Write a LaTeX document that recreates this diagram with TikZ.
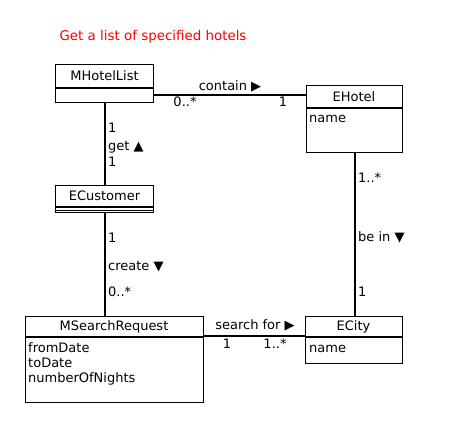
\documentclass[tikz,border=0pt]{standalone}
\usepackage{fontspec}
\setmainfont{DejaVu Sans}
\begin{document}
\begin{tikzpicture}[x=1pt,y=-1pt,
  every node/.style={font=\fontsize{13}{15}\selectfont, inner sep=0pt},
  cls/.style={draw, line width=1.4pt, anchor=north west, inner sep=0pt},
  lbl/.style={anchor=west},
  assoc/.style={line width=1.4pt},
  sep/.style={line width=1.4pt}]
\useasboundingbox (0,0) rectangle (462,434);
% title
\node[text=red, font=\fontsize{13.4}{15}\selectfont] (title) at (153,37) {Get a list of specified hotels};
% classes
\node[cls, minimum width=98pt, minimum height=38pt] (mhl) at (55,64) {};
\node (mhlname) at (104.5,76) {MHotelList};
\draw[sep] (mhl.west |- 0,88) -- (mhl.east |- 0,88);

\node[cls, minimum width=96pt, minimum height=67pt] (eh) at (306,85) {};
\node (ehname) at (354,97) {EHotel};
\draw[sep] (eh.west |- 0,108) -- (eh.east |- 0,108);
\node[lbl] (ehattr) at (309,119) {name};

\node[cls, minimum width=98pt, minimum height=27pt] (ec) at (55,185) {};
\node (ecname) at (104.5,196) {ECustomer};
\draw[sep] (ec.west |- 0,207) -- (ec.east |- 0,207);
\draw[line width=0.8pt] (ec.west |- 0,210) -- (ec.east |- 0,210);

\node[cls, minimum width=178pt, minimum height=86pt] (msr) at (25,316) {};
\node (msrname) at (114,327) {MSearchRequest};
\draw[sep] (msr.west |- 0,337) -- (msr.east |- 0,337);
\node[lbl, align=left, anchor=north west] (msrattr) at (28,342) {fromDate\\toDate\\numberOfNights};

\node[cls, minimum width=97pt, minimum height=47pt] (city) at (305,316) {};
\node (cityname) at (353.5,327) {ECity};
\draw[sep] (city.west |- 0,337) -- (city.east |- 0,337);
\node[lbl] (cityattr) at (309,349) {name};

% associations
\draw[assoc] (mhl.east |- 0,95) -- (eh.west |- 0,95);
\node (l1) at (230,86) {contain ▶};
\node (l1a) at (185,102) {0..*};
\node (l1b) at (283,102) {1};

\draw[assoc] (mhl.south -| 105,0) -- (ec.north -| 105,0);
\node[lbl] (l2a) at (108,128) {1};
\node[lbl] (l2) at (108,147) {get ▲};
\node[lbl] (l2b) at (108,162) {1};

\draw[assoc] (ec.south -| 105,0) -- (msr.north -| 105,0);
\node[lbl] (l3a) at (108,238) {1};
\node[lbl] (l3) at (108,267) {create ▼};
\node[lbl] (l3b) at (108,292) {0..*};

\draw[assoc] (eh.south -| 355,0) -- (city.north -| 355,0);
\node[lbl] (l4a) at (358,178) {1..*};
\node[lbl] (l4) at (358,237) {be in ▼};
\node[lbl] (l4b) at (358,292) {1};

\draw[assoc] (msr.east |- 0,336) -- (city.west |- 0,336);
\node (l5) at (255,325) {search for ▶};
\node (l5a) at (227,344) {1};
\node (l5b) at (275,344) {1..*};
\end{tikzpicture}
\end{document}
